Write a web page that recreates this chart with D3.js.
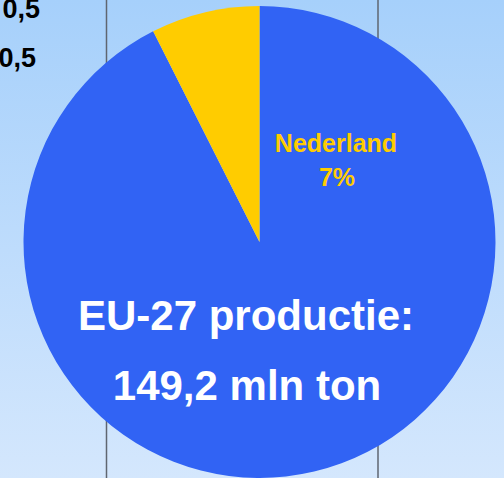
<!DOCTYPE html>
<html>
<head>
<meta charset="utf-8">
<script src="https://cdn.jsdelivr.net/npm/d3@7"></script>
<style>
  html, body { margin: 0; padding: 0; overflow: hidden; }
  svg { display: block; font-family: "Liberation Sans", Arial, sans-serif; font-weight: bold; }
</style>
</head>
<body>
<svg id="chart" width="504" height="478"></svg>
<script>
// EU-27 production split, mln ton
const categories = ["Overig EU-27", "Nederland"];
const values = [138.1, 11.1];
const sideLabels = ["0,5", "0,5"];

const width = 504, height = 478;
const svg = d3.select("#chart");

// background gradient
const grad = svg.append("defs").append("linearGradient")
  .attr("id", "bg").attr("x1", 0).attr("y1", 0).attr("x2", 0).attr("y2", 1);
grad.append("stop").attr("offset", "0%").attr("stop-color", "#a6d0fb");
grad.append("stop").attr("offset", "100%").attr("stop-color", "#d4e7fd");
svg.append("rect").attr("width", width).attr("height", height).attr("fill", "url(#bg)");

// leftover gridlines of the slide behind the pie
svg.append("g")
  .selectAll("line")
  .data([106.5, 378])
  .join("line")
  .attr("x1", (d) => d).attr("x2", (d) => d)
  .attr("y1", 0).attr("y2", height)
  .attr("stroke", "#5f6670")
  .attr("stroke-width", 1.5);

// leftover labels at the top-left (the first one is cut by the top edge)
svg.append("g")
  .selectAll("text")
  .data(sideLabels)
  .join("text")
  .attr("x", (d, i) => (i === 0 ? 40 : 36))
  .attr("y", (d, i) => (i === 0 ? 18 : 67))
  .attr("text-anchor", "end")
  .attr("font-size", 27)
  .attr("fill", "#000")
  .text((d) => d);

const cx = 259.5, cy = 242, r = 236;
const colors = d3.scaleOrdinal().domain(categories).range(["#3163f4", "#ffcc00"]);
const pie = d3.pie().sort(null).value((d) => d.value);
const arcs = pie(categories.map((c, i) => ({ name: c, value: values[i] })));
const arc = d3.arc().innerRadius(0).outerRadius(r);

svg.append("g")
  .attr("transform", `translate(${cx},${cy})`)
  .selectAll("path")
  .data(arcs)
  .join("path")
  .attr("d", arc)
  .attr("fill", (d) => colors(d.data.name));

const total = d3.sum(values);
const share = Math.round((values[1] / total) * 100);

// Nederland label
const nl = svg.append("text")
  .attr("text-anchor", "middle")
  .attr("font-size", 25)
  .attr("fill", "#ffcc00");
nl.append("tspan").attr("x", 336).attr("y", 152).text(categories[1]);
nl.append("tspan").attr("x", 337).attr("y", 186).text(share + "%");

// total label
const fmt = (v) => d3.format(".1f")(v).replace(".", ",");
const tot = svg.append("text")
  .attr("text-anchor", "middle")
  .attr("font-size", 42)
  .attr("fill", "#fff");
tot.append("tspan").attr("x", 246).attr("y", 330).text("EU-27 productie:");
tot.append("tspan").attr("x", 247).attr("y", 400).text(fmt(total) + " mln ton");
</script>
</body>
</html>
